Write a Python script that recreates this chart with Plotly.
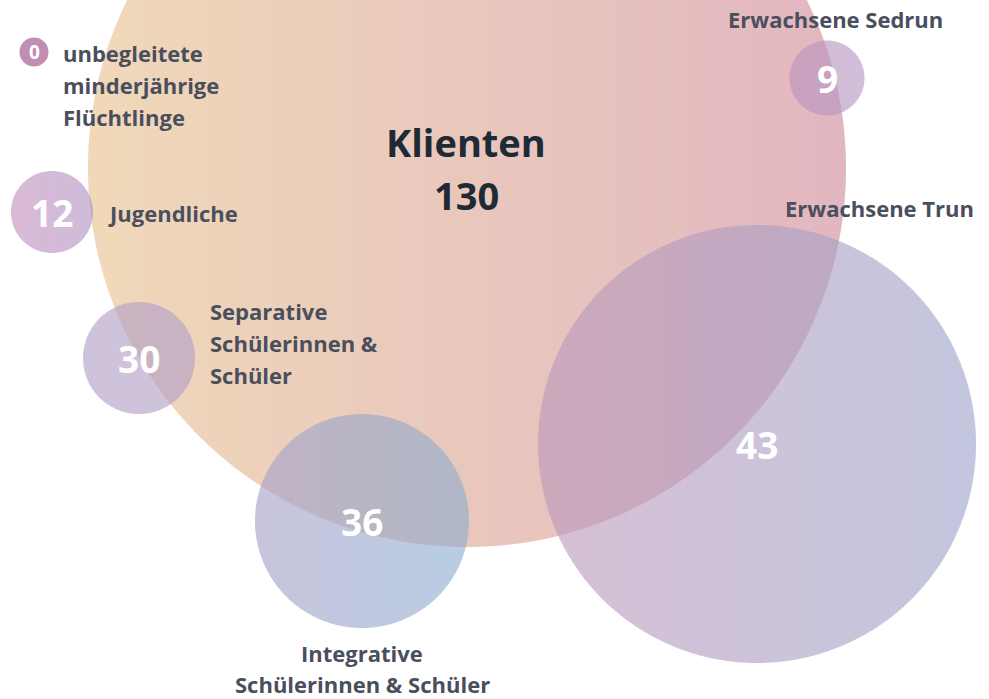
import math
import plotly.graph_objects as go

W, H = 989, 699

# ---------------- data ----------------
categories = ["Klienten", "unbegleitete minderjährige Flüchtlinge", "Jugendliche",
              "Separative Schülerinnen & Schüler", "Integrative Schülerinnen & Schüler",
              "Erwachsene Trun", "Erwachsene Sedrun"]
values = [130, 0, 12, 30, 36, 43, 9]
label_lines = [["Klienten"],
               ["unbegleitete", "minderjährige", "Flüchtlinge"],
               ["Jugendliche"],
               ["Separative", "Schülerinnen &", "Schüler"],
               ["Integrative", "Schülerinnen & Schüler"],
               ["Erwachsene Trun"],
               ["Erwachsene Sedrun"]]

# ---------------- layout (pixel coordinates) ----------------
cx = [467, 34, 52, 139, 362, 757, 827]
cy = [168, 52, 212, 358, 521, 444, 78]
rad = [379, 14.5, 41, 56, 107, 219, 37.5]

# label placement: x, y of first line, anchor, line spacing
lab_x = [466, 61, 106, 208, 362, 879, 835]
lab_y = [142, 53, 213, 311, 653, 208, 19]
lab_anchor = ["center", "left", "left", "left", "center", "center", "center"]
lab_gap = 32

# ---------------- styles ----------------
grad_left = [(240, 217, 185), (192, 141, 179), (194, 144, 186), (178, 158, 199),
             (166, 160, 200), (189, 153, 186), (187, 147, 189)]
grad_right = [(226, 182, 192), (192, 141, 179), (176, 145, 196), (178, 158, 199),
              (140, 174, 207), (158, 163, 203), (180, 150, 195)]
alpha = [1.0, 1.0, 0.62, 0.62, 0.62, 0.62, 0.62]
num_size = [38, 19, 37, 37, 37, 37, 37]

FONT = "'Open Sans', Lato, sans-serif"
LABEL_COLOR = "#4a4f5d"
TITLE_COLOR = "#1f2a37"
LABEL_SIZE = 22


def lerp(c1, c2, t):
    return tuple(c1[i] + (c2[i] - c1[i]) * t for i in range(3))


def circle_strips(x0c, y0c, r, c_left, c_right, a, step):
    shapes = []
    xa = math.floor(x0c - r)
    xb = math.ceil(x0c + r)
    edges = list(range(xa, xb, step)) + [xb]
    for a0, b0 in zip(edges[:-1], edges[1:]):
        lo = max(a0, x0c - r)
        hi = min(b0, x0c + r)
        if hi <= lo:
            continue
        ta = math.acos(max(-1.0, min(1.0, (lo - x0c) / r)))
        tb = math.acos(max(-1.0, min(1.0, (hi - x0c) / r)))
        k = max(2, int(math.ceil((ta - tb) * r / 1.5)) + 1)
        angs = [ta + (tb - ta) * i / (k - 1) for i in range(k)]
        top = [(x0c + r * math.cos(t), y0c - r * math.sin(t)) for t in angs]
        bot = [(x0c + r * math.cos(t), y0c + r * math.sin(t)) for t in reversed(angs)]
        pts = top + bot
        path = "M" + " L".join(f"{px:.3f},{py:.3f}" for px, py in pts) + " Z"
        t = ((lo + hi) / 2 - (x0c - r)) / (2 * r)
        col = lerp(c_left, c_right, t)
        shapes.append(dict(type="path", xref="x", yref="y", path=path,
                           fillcolor=f"rgba({col[0]:.0f},{col[1]:.0f},{col[2]:.0f},{a})",
                           line=dict(width=0), layer="above"))
    return shapes


shapes = []
for i in range(len(values)):
    step = 2 if rad[i] > 30 else 1
    if alpha[i] >= 1.0 and grad_left[i] == grad_right[i]:
        col = grad_left[i]
        shapes.append(dict(type="circle", xref="x", yref="y",
                           x0=cx[i] - rad[i], x1=cx[i] + rad[i],
                           y0=cy[i] - rad[i], y1=cy[i] + rad[i],
                           fillcolor=f"rgb({col[0]},{col[1]},{col[2]})",
                           line=dict(width=0), layer="above"))
    else:
        shapes += circle_strips(cx[i], cy[i], rad[i], grad_left[i], grad_right[i], alpha[i], step)

annotations = []
for i, v in enumerate(values):
    if i == 0:
        annotations.append(dict(x=lab_x[0], y=lab_y[0], text=label_lines[0][0],
                                showarrow=False, xanchor="center", yanchor="middle",
                                font=dict(family=FONT, size=num_size[0], color=TITLE_COLOR, weight=700)))
        annotations.append(dict(x=lab_x[0], y=lab_y[0] + 53, text=str(v),
                                showarrow=False, xanchor="center", yanchor="middle",
                                font=dict(family=FONT, size=num_size[0], color=TITLE_COLOR, weight=700)))
        continue
    annotations.append(dict(x=cx[i], y=cy[i], text=str(v), showarrow=False,
                            xanchor="center", yanchor="middle",
                            font=dict(family=FONT, size=num_size[i], color="white", weight=700)))
    gap = 31 if i == 4 else lab_gap
    for j, line in enumerate(label_lines[i]):
        annotations.append(dict(x=lab_x[i], y=lab_y[i] + j * gap, text=line,
                                showarrow=False, xanchor=lab_anchor[i], yanchor="middle",
                                font=dict(family=FONT, size=LABEL_SIZE, color=LABEL_COLOR, weight=700)))

fig = go.Figure()
fig.add_trace(go.Scatter(x=cx, y=cy, mode="markers", marker=dict(opacity=0, size=1),
                         hoverinfo="skip", showlegend=False))
fig.update_layout(
    width=W, height=H, autosize=False,
    margin=dict(l=0, r=0, t=0, b=0, pad=0),
    paper_bgcolor="white", plot_bgcolor="white",
    xaxis=dict(range=[0, W], visible=False, fixedrange=True),
    yaxis=dict(range=[H, 0], visible=False, fixedrange=True),
    shapes=shapes, annotations=annotations, showlegend=False,
)
fig.write_html("out.html", config=dict(displayModeBar=False, staticPlot=True),
               post_script="document.body.style.margin='0';document.body.style.overflow='hidden';")
